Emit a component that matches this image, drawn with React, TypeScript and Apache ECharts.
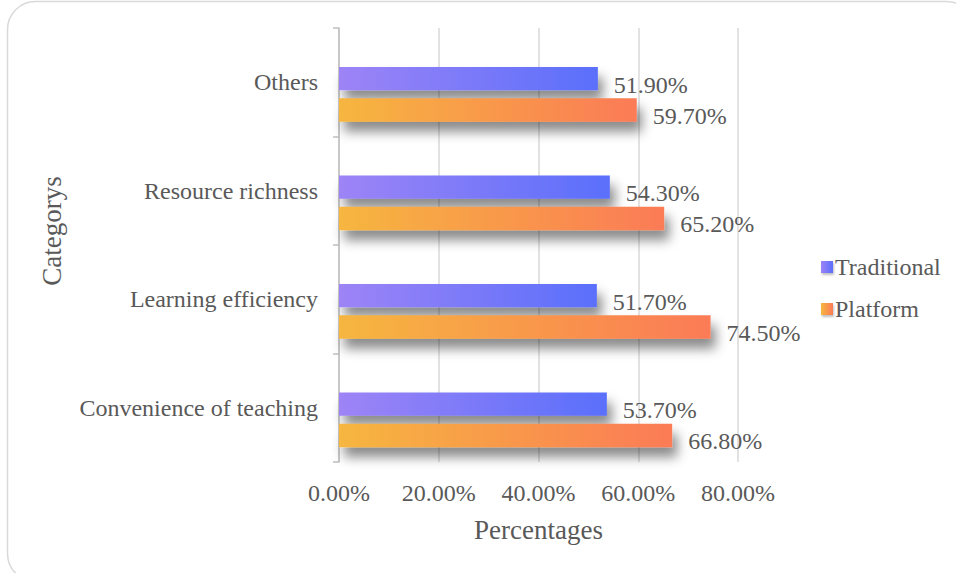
import React, { useEffect, useRef } from "react";
import * as echarts from "echarts";

const categories = ["Convenience of teaching", "Learning efficiency", "Resource richness", "Others"];
const traditional = [53.7, 51.7, 54.3, 51.9];
const platform = [66.8, 74.5, 65.2, 59.7];
const xTicks = [0, 20, 40, 60, 80];

const FONT = "'Times New Roman', 'Liberation Serif', serif";
const TXT = "#595959";
const FS = 24;

export default function App() {
  const ref = useRef<HTMLDivElement>(null);
  useEffect(() => {
    if (!ref.current) return;
    const chart = echarts.init(ref.current, null, { renderer: "svg" });
    const shadow = {
      shadowColor: "rgba(0,0,0,0.45)",
      shadowBlur: 12,
      shadowOffsetX: 5,
      shadowOffsetY: 10,
    };
    const label = () => ({
      show: true,
      position: "right",
      distance: 16,
      offset: [0, 6],
      color: TXT,
      fontFamily: FONT,
      fontSize: FS,
      textShadowColor: "transparent",
      textShadowBlur: 0,
      textBorderWidth: 0,
      formatter: (p: any) => Number(p.value).toFixed(2) + "%",
    });
    chart.setOption({
      animation: false,
      backgroundColor: "#ffffff",
      textStyle: { fontFamily: FONT },
      graphic: [
        {
          type: "rect",
          shape: { x: 7.5, y: 1.5, width: 967, height: 580, r: 28 },
          style: { fill: "none", stroke: "#d9d9d9", lineWidth: 1.5 },
          silent: true,
          z: -10,
        },
        {
          type: "text",
          x: 52,
          y: 231,
          rotation: Math.PI / 2,
          style: {
            text: "Categorys",
            fill: TXT,
            font: `27px ${FONT}`,
            align: "center",
            verticalAlign: "middle",
          },
        },
      ],
      legend: {
        orient: "vertical",
        left: 816,
        top: 250,
        itemWidth: 12,
        itemHeight: 12,
        itemGap: 18,
        icon: "rect",
        data: ["Traditional", "Platform"],
        itemStyle: { shadowBlur: 2, shadowOffsetX: 1, shadowOffsetY: 2, shadowColor: "rgba(0,0,0,0.25)" },
        textStyle: { color: TXT, fontFamily: FONT, fontSize: FS, padding: [0, 0, 0, -3] },
      },
      grid: { left: 339, right: 956 - 738, top: 28, bottom: 573 - 462, containLabel: false },
      xAxis: {
        type: "value",
        min: xTicks[0],
        max: xTicks[xTicks.length - 1],
        interval: 20,
        name: "Percentages",
        nameLocation: "middle",
        nameGap: 54,
        nameTextStyle: { color: TXT, fontFamily: FONT, fontSize: 27 },
        axisLine: { show: false },
        axisTick: { show: false },
        axisLabel: {
          color: TXT,
          fontFamily: FONT,
          fontSize: FS,
          margin: 19,
          formatter: (v: number) => v.toFixed(2) + "%",
        },
        splitLine: { show: true, lineStyle: { color: "#d9d9d9", width: 1.5 } },
      },
      yAxis: {
        type: "category",
        data: categories,
        axisLine: { show: true, lineStyle: { color: "#bfbfbf", width: 1.5 } },
        axisTick: { show: true, length: 6, lineStyle: { color: "#bfbfbf", width: 1.5 } },
        axisLabel: { color: TXT, fontFamily: FONT, fontSize: FS, margin: 21 },
        splitLine: { show: false },
      },
      series: [
        {
          name: "spacer",
          type: "bar",
          barWidth: 17.8,
          barGap: "35%",
          data: categories.map(() => null),
          itemStyle: { color: "transparent" },
          silent: true,
        },
        {
          name: "Traditional",
          type: "bar",
          barWidth: 23.3,
          barGap: "35%",
          data: traditional,
          itemStyle: {
            color: new echarts.graphic.LinearGradient(0, 0, 1, 0, [
              { offset: 0, color: "#9d84f6" },
              { offset: 1, color: "#5a6ffb" },
            ]),
            ...shadow,
          },
          label: label(),
        },
        {
          name: "Platform",
          type: "bar",
          barWidth: 23.3,
          barGap: "35%",
          data: platform,
          itemStyle: {
            color: new echarts.graphic.LinearGradient(0, 0, 1, 0, [
              { offset: 0, color: "#f6b63f" },
              { offset: 1, color: "#fb7b56" },
            ]),
            ...shadow,
          },
          label: label(),
        },
      ],
    });
    return () => chart.dispose();
  }, []);
  return (
    <div
      ref={ref}
      style={{ position: "fixed", left: 0, top: 0, width: 956, height: 573, background: "#fff" }}
    />
  );
}
